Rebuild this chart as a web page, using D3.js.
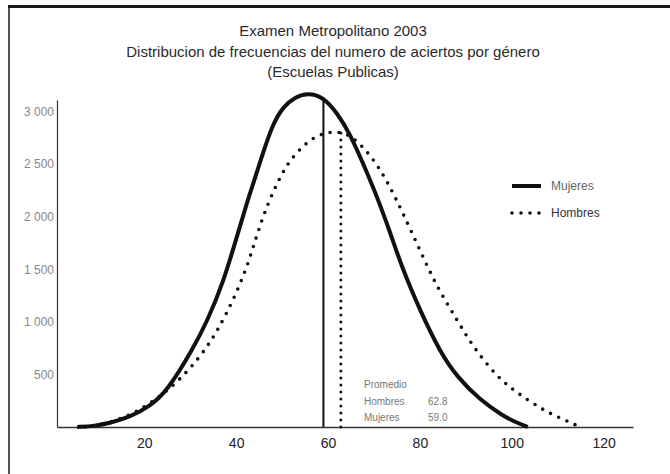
<!DOCTYPE html>
<html>
<head>
<meta charset="utf-8">
<script src="https://cdn.jsdelivr.net/npm/d3@7"></script>
<style>
  body { margin: 0; background: #fff; }
  svg { display: block; font-family: "Liberation Sans", Arial, sans-serif; }
</style>
</head>
<body>
<script>
const WIDTH = 670;
const HEIGHT = 474;

const TITLE = [
  "Examen Metropolitano 2003",
  "Distribucion de frecuencias del numero de aciertos por género",
  "(Escuelas Publicas)"
];

const SERIES = ["Mujeres", "Hombres"];

// aciertos (x) / frecuencia (y)
const mujeresX = [5.4, 9.3, 12.5, 16.9, 21.3, 25, 30.6, 33.7, 37.1, 40.4, 42.4, 43.7, 45.9, 48, 50.2, 52.8, 55.7, 58.9, 62, 64.8, 67.6, 70.7, 73.5, 76.3, 80, 84.4, 88.1, 93.1, 98.1, 100.7, 103.5];
const mujeresY = [0, 10, 38, 95, 200, 342, 742, 1008, 1360, 1845, 2140, 2311, 2616, 2882, 3044, 3139, 3177, 3139, 2987, 2787, 2511, 2188, 1855, 1493, 1113, 713, 476, 257, 105, 48, 0];

const hombresX = [7.1, 14.7, 22.8, 29.3, 33.7, 36, 39.3, 42.4, 44.5, 46.9, 49.6, 51.7, 55.4, 58.3, 62, 65.4, 69.8, 73.1, 76.3, 80, 83.7, 88.1, 91.6, 96.8, 101.2, 106.8, 110.5, 114.4];
const hombresY = [0, 57, 257, 514, 761, 923, 1198, 1522, 1826, 2130, 2378, 2539, 2711, 2787, 2815, 2768, 2558, 2321, 2035, 1683, 1332, 1018, 761, 476, 323, 162, 86, 10];

const MEANS = [59.0, 62.8]; // Mujeres, Hombres

const X_TICKS = [20, 40, 60, 80, 100, 120];
const Y_TICKS = [500, 1000, 1500, 2000, 2500, 3000];

const x = d3.scaleLinear([1, 126.4], [57, 633]);
const y = d3.scaleLinear([0, 3110], [427, 100]);

const fmt = d3.formatLocale({ decimal: ".", thousands: " ", grouping: [3], currency: ["", ""] }).format(",d");

const svg = d3.select("body").append("svg")
    .attr("width", WIDTH)
    .attr("height", HEIGHT);

// scan frame (top + left edge)
svg.append("line")
    .attr("x1", 8).attr("x2", WIDTH).attr("y1", 6.5).attr("y2", 6.5)
    .attr("stroke", "#1a1a1a").attr("stroke-width", 3);
svg.append("line")
    .attr("x1", 9).attr("x2", 9).attr("y1", 6).attr("y2", HEIGHT)
    .attr("stroke", "#1a1a1a").attr("stroke-width", 1.5);

svg.append("g")
    .attr("text-anchor", "middle")
    .attr("fill", "#2a2a2a")
    .style("font-size", "15px")
  .selectAll("text")
  .data(TITLE)
  .join("text")
    .attr("x", 333)
    .attr("y", (d, i) => 36 + i * 20.5)
    .text(d => d);

// axes
svg.append("g")
    .attr("transform", `translate(0,${y(0)})`)
    .call(d3.axisBottom(x).tickValues(X_TICKS).tickSize(0).tickPadding(11))
    .call(g => g.select(".domain").attr("stroke", "#333").attr("stroke-width", 1.5))
    .call(g => g.selectAll("text").attr("fill", "#222").style("font-size", "14px").style("font-family", "inherit"));

svg.append("g")
    .attr("transform", `translate(${x(1)},0)`)
    .call(d3.axisLeft(y).tickValues(Y_TICKS).tickSize(0).tickPadding(3).tickFormat(fmt))
    .call(g => g.select(".domain").attr("stroke", "#333").attr("stroke-width", 1.2))
    .call(g => g.selectAll("text").attr("fill", "#888").style("font-size", "12px").style("font-family", "inherit"));

const series = [
  { name: SERIES[0], pts: d3.zip(mujeresX, mujeresY), mean: MEANS[0] },
  { name: SERIES[1], pts: d3.zip(hombresX, hombresY), mean: MEANS[1] }
];

const line = d3.line()
    .x(d => x(d[0]))
    .y(d => y(d[1]))
    .curve(d3.curveBasis);

function valueAt(pts, v) {
  const i = d3.bisector(d => d[0]).left(pts, v);
  const a = pts[i - 1], b = pts[i];
  return a[1] + (b[1] - a[1]) * (v - a[0]) / (b[0] - a[0]);
}

function styleLine(sel, i, thick) {
  if (i === 0) {
    sel.attr("stroke-width", thick ? 4 : 2);
  } else {
    sel.attr("stroke-width", thick ? 3.6 : 3)
      .attr("stroke-linecap", "round")
      .attr("stroke-dasharray", thick ? "0 9" : "0 7");
  }
}

// mean verticals
svg.append("g").selectAll("line")
  .data(series)
  .join("line")
    .attr("x1", d => x(d.mean)).attr("x2", d => x(d.mean))
    .attr("y1", y(0))
    .attr("y2", d => y(valueAt(d.pts, d.mean)))
    .attr("stroke", "#111")
    .each(function(d, i) { styleLine(d3.select(this), i, false); });

// curves
svg.append("g").selectAll("path")
  .data(series)
  .join("path")
    .attr("fill", "none")
    .attr("stroke", "#111")
    .attr("d", d => line(d.pts))
    .each(function(d, i) { styleLine(d3.select(this), i, true); });

// legend
const legend = svg.append("g")
  .selectAll("g")
  .data(series)
  .join("g")
    .attr("transform", (d, i) => `translate(512,${186 + i * 27})`);

legend.append("line")
    .attr("x1", 0).attr("x2", 29)
    .attr("stroke", "#111")
    .each(function(d, i) { styleLine(d3.select(this), i, true); });

legend.append("text")
    .attr("x", 39)
    .attr("dy", "0.35em")
    .attr("fill", (d, i) => i === 0 ? "#666" : "#333")
    .style("font-size", "12px")
    .text(d => d.name);

// annotation
const note = [
  ["Promedio", ""],
  ["Hombres", MEANS[1].toFixed(1)],
  ["Mujeres", MEANS[0].toFixed(1)]
];
const noteText = svg.append("g")
    .attr("fill", "#777")
    .style("font-size", "10px")
  .selectAll("text")
  .data(note)
  .join("text")
    .attr("y", (d, i) => 388 + i * 16.5);
noteText.append("tspan").attr("x", 364).text(d => d[0]);
noteText.append("tspan").attr("x", 428).text(d => d[1]);
</script>
</body>
</html>
